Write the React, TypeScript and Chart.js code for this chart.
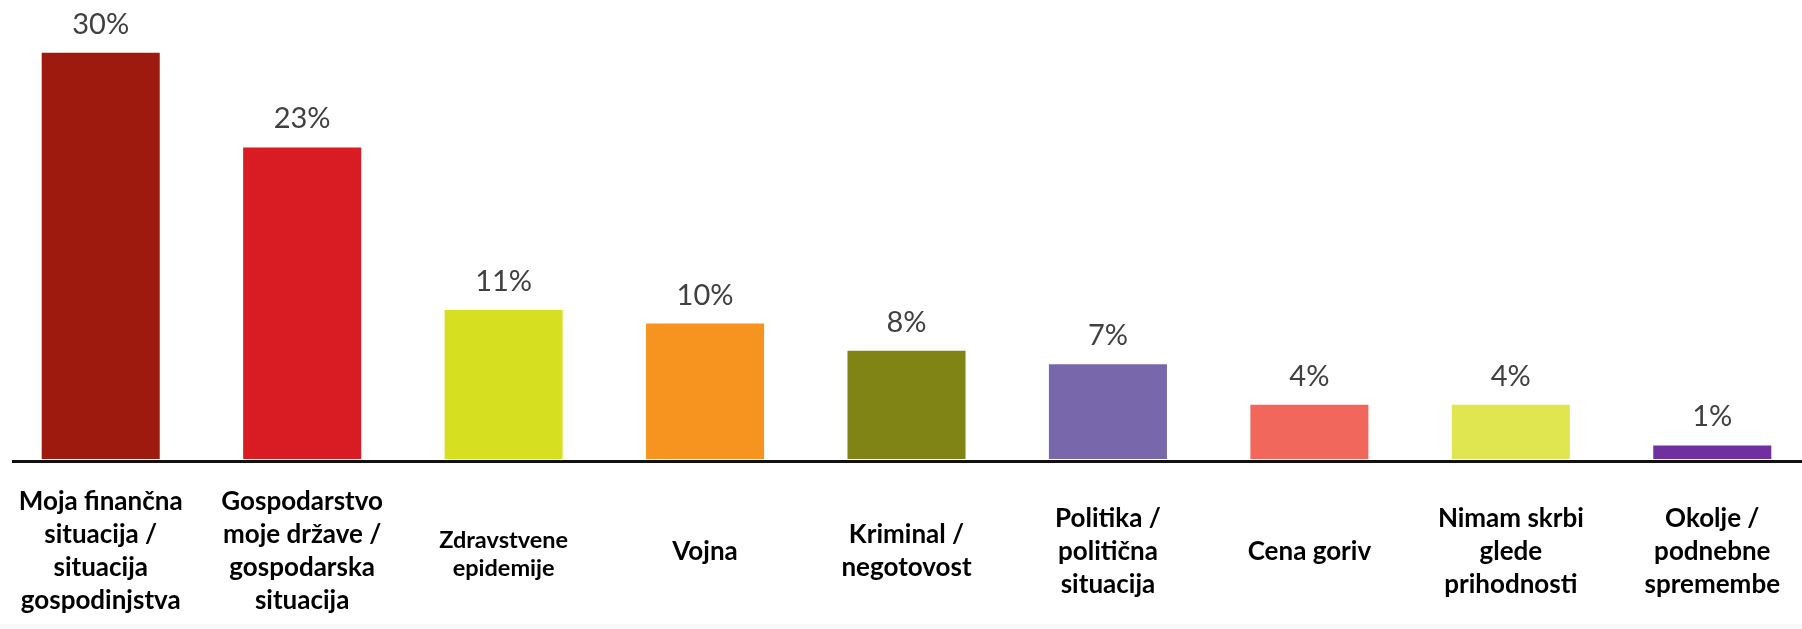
import React, { useEffect, useRef } from "react";
import { Chart, registerables } from "chart.js";

Chart.register(...registerables);

// ---- Data ----
const CATEGORIES: string[][] = [
  ["Moja finančna", "situacija /", "situacija", "gospodinjstva"],
  ["Gospodarstvo", "moje države /", "gospodarska", "situacija"],
  ["Zdravstvene", "epidemije"],
  ["Vojna"],
  ["Kriminal /", "negotovost"],
  ["Politika /", "politična", "situacija"],
  ["Cena goriv"],
  ["Nimam skrbi", "glede", "prihodnosti"],
  ["Okolje /", "podnebne", "spremembe"],
];

const VALUES: number[] = [30, 23, 11, 10, 8, 7, 4, 4, 1];

const VALUE_LABELS: string[] = VALUES.map((v) => `${v}%`);

const BAR_COLORS: string[] = [
  "#9E1A0F",
  "#D91B23",
  "#D6E021",
  "#F7941F",
  "#808415",
  "#7868AB",
  "#F2675B",
  "#E0E64F",
  "#7030A0",
];

const Y_MIN = 0;
const Y_MAX = 33;

// ---- Style ----
const CANVAS_W = 1813;
const CANVAS_H = 629;
const FONT = "Lato, 'Open Sans', 'Noto Sans', sans-serif";
const SMALL_LABEL_INDEX = 2;

export default function App() {
  const canvasRef = useRef<HTMLCanvasElement>(null);

  useEffect(() => {
    const canvas = canvasRef.current;
    if (!canvas) return;

    const valueLabelPlugin = {
      id: "valueLabels",
      afterDatasetsDraw(chart: any) {
        const ctx = chart.ctx;
        const meta = chart.getDatasetMeta(0);
        ctx.save();
        ctx.font = `29px ${FONT}`;
        ctx.fillStyle = "#404040";
        ctx.textAlign = "center";
        ctx.textBaseline = "alphabetic";
        meta.data.forEach((el: any, i: number) => {
          ctx.fillText(VALUE_LABELS[i], el.x, el.y - 19);
        });
        ctx.restore();
      },
    };

    const baselinePlugin = {
      id: "baseline",
      afterDatasetsDraw(chart: any) {
        const ctx = chart.ctx;
        const y = chart.scales.y.getPixelForValue(0) + 2.5;
        ctx.save();
        ctx.strokeStyle = "#111111";
        ctx.lineWidth = 3;
        ctx.beginPath();
        ctx.moveTo(chart.chartArea.left + 12, y);
        ctx.lineTo(chart.width, y);
        ctx.stroke();
        ctx.restore();
      },
    };

    const chart = new Chart(canvas, {
      type: "bar",
      data: {
        labels: CATEGORIES,
        datasets: [
          {
            data: VALUES,
            backgroundColor: BAR_COLORS,
            borderWidth: 0,
            categoryPercentage: 1,
            barPercentage: 0.586,
          },
        ],
      },
      options: {
        animation: false,
        responsive: false,
        devicePixelRatio: 1,
        layout: { padding: { top: 12, left: 0, right: 0, bottom: 0 } },
        plugins: {
          legend: { display: false },
          tooltip: { enabled: false },
        },
        scales: {
          x: {
            grid: { display: false, drawTicks: false },
            border: { display: false },
            ticks: {
              color: "#000000",
              padding: 43,
              crossAlign: "center",
              maxRotation: 0,
              minRotation: 0,
              autoSkip: false,
              font: (ctx: any) =>
                ctx.index === SMALL_LABEL_INDEX
                  ? { family: FONT, size: 23.5, weight: "bold", lineHeight: "28px" }
                  : { family: FONT, size: 26, weight: "bold", lineHeight: "33px" },
            },
            afterFit: (scale: any) => {
              scale.height = 170;
              scale.paddingLeft = 0;
              scale.paddingRight = 0;
            },
          } as any,
          y: {
            display: false,
            min: Y_MIN,
            max: Y_MAX,
          },
        },
      },
      plugins: [valueLabelPlugin, baselinePlugin],
    });

    return () => chart.destroy();
  }, []);

  return (
    <div
      style={{
        position: "absolute",
        left: 0,
        top: 0,
        width: 1802,
        height: CANVAS_H,
        overflow: "hidden",
        background: "#ffffff",
      }}
    >
      <div
        style={{
          position: "absolute",
          left: 0,
          top: 624,
          width: 1802,
          height: 5,
          background: "#f8f8f8",
        }}
      />
      <canvas
        ref={canvasRef}
        width={CANVAS_W}
        height={CANVAS_H}
        style={{ position: "absolute", left: 0, top: 0, width: CANVAS_W, height: CANVAS_H }}
      />
    </div>
  );
}
